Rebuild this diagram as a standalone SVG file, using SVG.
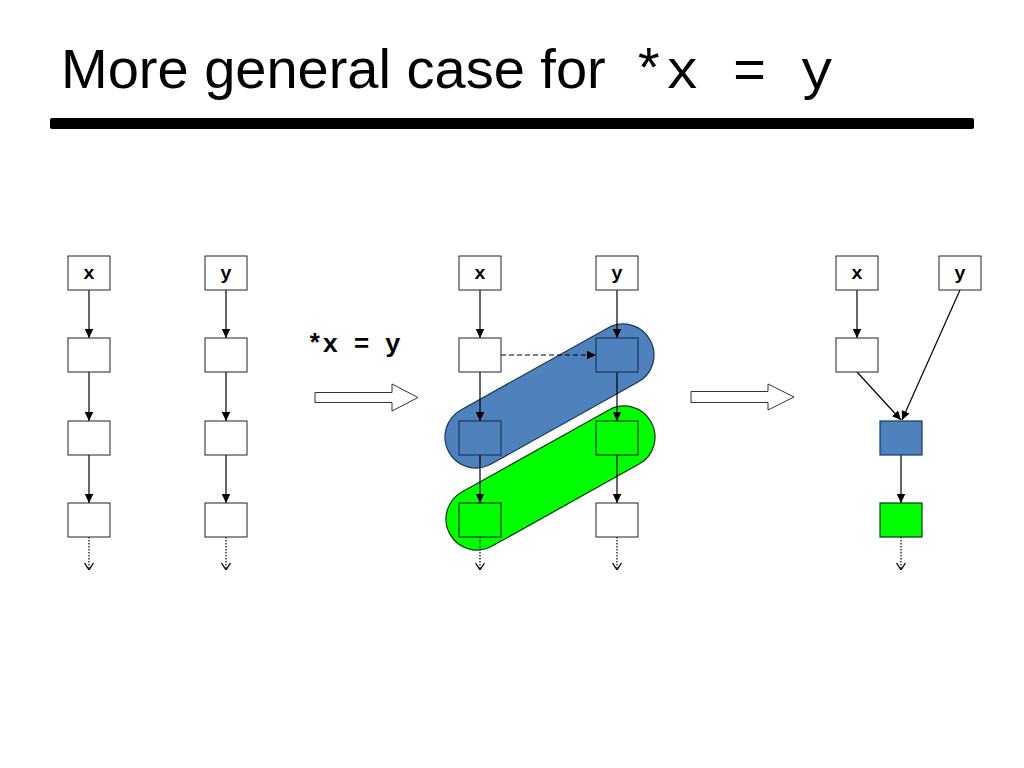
<svg xmlns="http://www.w3.org/2000/svg" width="1024" height="768" viewBox="0 0 1024 768">
<defs>
<style>
.box{fill:#fff;stroke:#222;stroke-width:1}
.blue{fill:#4F81BD;stroke:#17375E;stroke-width:1.2}
.green{fill:#00FF00;stroke:#0A3A0A;stroke-width:1.2}
.mono{font-family:"Courier New",Courier,"Nimbus Mono PS","Nimbus Mono L",FreeMono,"Liberation Mono",monospace}
.lbl{font-weight:bold;font-size:19px;text-anchor:middle;fill:#000}
.c{stroke:#000;stroke-width:1.2;fill:none}
.solid{marker-end:url(#ah)}
.dot{stroke-dasharray:1.5 1.5;marker-end:url(#vh)}
.dash{stroke-dasharray:5 3;marker-end:url(#ah)}
.blk{fill:#fff;stroke:#333;stroke-width:1}
</style>
<marker id="ah" viewBox="0 0 10 10" refX="10" refY="5" markerWidth="9" markerHeight="8.5" markerUnits="userSpaceOnUse" orient="auto" preserveAspectRatio="none">
<path d="M0,0 L10,5 L0,10 z" fill="#000"/>
</marker>
<marker id="vh" viewBox="0 0 10 10" refX="9.5" refY="5" markerWidth="7.5" markerHeight="10" markerUnits="userSpaceOnUse" orient="auto" preserveAspectRatio="none">
<path d="M0,0.5 L9.5,5 L0,9.5" fill="none" stroke="#000" stroke-width="1.3"/>
</marker>
</defs>
<rect width="1024" height="768" fill="#fff"/>
<g id="title">
<text x="61" y="88" font-family="'Liberation Sans', Arial, sans-serif" font-size="56" fill="#000">More general case for <tspan class="mono" x="632">*x = y</tspan></text>
<rect x="50" y="118" width="924" height="11" rx="2" fill="#000"/>
</g>
<g id="capsule-blue">
<rect class="blue" x="-31" y="-31" width="230.3" height="62" rx="31" transform="translate(476,437) rotate(-29.15)"/>
</g>
<g id="capsule-green">
<rect class="green" x="-31" y="-31" width="230.3" height="62" rx="31" transform="translate(477,519) rotate(-29.15)"/>
</g>
<g id="op-label">
<text class="mono" x="307" y="352" font-weight="bold" font-size="26" fill="#000">*x = y</text>
</g>
<g id="block-arrow-1">
<polygon class="blk" points="315,392.5 392,392.5 392,384 418,397.5 392,411 392,402.5 315,402.5"/>
</g>
<g id="block-arrow-2">
<polygon class="blk" points="691,391.5 768,391.5 768,384 794,397 768,410 768,402.5 691,402.5"/>
</g>
<g id="connectors">
<line class="c solid" x1="89" y1="290" x2="89" y2="338"/>
<line class="c solid" x1="89" y1="372" x2="89" y2="421"/>
<line class="c solid" x1="89" y1="455" x2="89" y2="503"/>
<line class="c dot" x1="89" y1="537" x2="89" y2="570"/>
<line class="c solid" x1="226" y1="290" x2="226" y2="338"/>
<line class="c solid" x1="226" y1="372" x2="226" y2="421"/>
<line class="c solid" x1="226" y1="455" x2="226" y2="503"/>
<line class="c dot" x1="226" y1="537" x2="226" y2="570"/>
<line class="c solid" x1="480" y1="290" x2="480" y2="338"/>
<line class="c solid" x1="480" y1="372" x2="480" y2="421"/>
<line class="c solid" x1="480" y1="455" x2="480" y2="503"/>
<line class="c dot" x1="480" y1="537" x2="480" y2="570"/>
<line class="c solid" x1="617" y1="290" x2="617" y2="338"/>
<line class="c solid" x1="617" y1="372" x2="617" y2="421"/>
<line class="c solid" x1="617" y1="455" x2="617" y2="503"/>
<line class="c dot" x1="617" y1="537" x2="617" y2="570"/>
<line class="c dash" x1="501" y1="355" x2="596" y2="355"/>
<line class="c solid" x1="857" y1="290" x2="857" y2="338"/>
<line class="c solid" x1="857" y1="372" x2="901" y2="420"/>
<line class="c solid" x1="960" y1="290" x2="902" y2="420"/>
<line class="c solid" x1="901" y1="455" x2="901" y2="503"/>
<line class="c dot" x1="901" y1="537" x2="901" y2="570"/>
</g>
<g id="L-x"><rect class="box" x="68" y="256" width="42" height="34"/><text class="lbl mono" x="89" y="279">x</text></g>
<g id="L-x1"><rect class="box" x="68" y="338" width="42" height="34"/></g>
<g id="L-x2"><rect class="box" x="68" y="421" width="42" height="34"/></g>
<g id="L-x3"><rect class="box" x="68" y="503" width="42" height="34"/></g>
<g id="L-y"><rect class="box" x="205" y="256" width="42" height="34"/><text class="lbl mono" x="226" y="279">y</text></g>
<g id="L-y1"><rect class="box" x="205" y="338" width="42" height="34"/></g>
<g id="L-y2"><rect class="box" x="205" y="421" width="42" height="34"/></g>
<g id="L-y3"><rect class="box" x="205" y="503" width="42" height="34"/></g>
<g id="M-x"><rect class="box" x="459" y="256" width="42" height="34"/><text class="lbl mono" x="480" y="279">x</text></g>
<g id="M-x1"><rect class="box" x="459" y="338" width="42" height="34"/></g>
<g id="M-x2"><rect class="blue" x="459" y="421" width="42" height="34"/></g>
<g id="M-x3"><rect class="green" x="459" y="503" width="42" height="34"/></g>
<g id="M-y"><rect class="box" x="596" y="256" width="42" height="34"/><text class="lbl mono" x="617" y="279">y</text></g>
<g id="M-y1"><rect class="blue" x="596" y="338" width="42" height="34"/></g>
<g id="M-y2"><rect class="green" x="596" y="421" width="42" height="34"/></g>
<g id="M-y3"><rect class="box" x="596" y="503" width="42" height="34"/></g>
<g id="R-x"><rect class="box" x="836" y="256" width="42" height="34"/><text class="lbl mono" x="857" y="279">x</text></g>
<g id="R-y"><rect class="box" x="939" y="256" width="42" height="34"/><text class="lbl mono" x="960" y="279">y</text></g>
<g id="R-x1"><rect class="box" x="836" y="338" width="42" height="34"/></g>
<g id="R-b"><rect class="blue" x="880" y="421" width="42" height="34"/></g>
<g id="R-g"><rect class="green" x="880" y="503" width="42" height="34"/></g>
</svg>
